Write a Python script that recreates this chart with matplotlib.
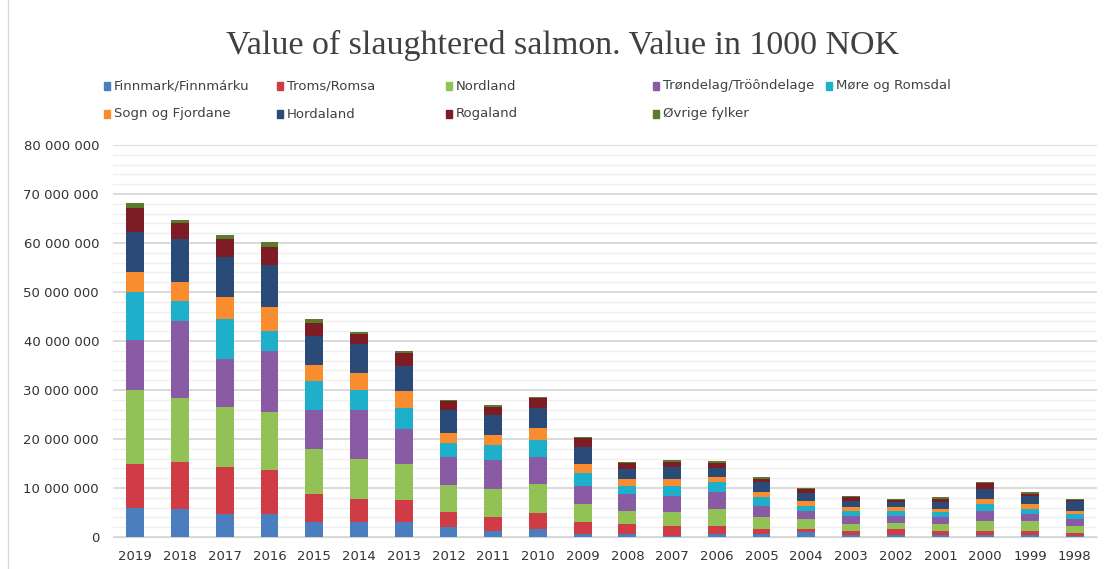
import numpy as np
import matplotlib
matplotlib.use('Agg')
import matplotlib.pyplot as plt
from matplotlib.patches import Rectangle
from matplotlib.ticker import MultipleLocator, FuncFormatter

# years on the x axis (newest first, as in the source)
years = ['2019', '2018', '2017', '2016', '2015', '2014', '2013', '2012', '2011', '2010', '2009',
         '2008', '2007', '2006', '2005', '2004', '2003', '2002', '2001', '2000', '1999', '1998']

# values in millions (axis is in 1000 NOK)
finnmark  = [6.0, 5.65, 4.7, 4.7, 3.0, 3.0, 3.0, 2.0, 1.3, 1.6, 0.55, 0.55, 0.27, 0.55, 0.55, 0.96, 0.47, 0.47, 0.47, 0.47, 0.47, 0.2]
troms     = [9.0, 9.65, 9.6, 9.0, 5.8, 4.76, 4.5, 3.06, 2.7, 3.4, 2.45, 2.1, 2.05, 1.7, 1.0, 0.6, 0.75, 1.1, 0.75, 0.75, 0.75, 0.6]
nordland  = [15.0, 13.0, 12.3, 11.9, 9.2, 8.2, 7.5, 5.5, 5.8, 5.9, 3.7, 2.7, 2.7, 3.5, 2.45, 2.05, 1.4, 1.35, 1.4, 2.1, 2.1, 1.4]
trondelag = [10.3, 15.8, 9.7, 12.4, 8.0, 10.0, 7.1, 5.8, 5.85, 5.4, 3.7, 3.4, 3.4, 3.4, 2.4, 1.75, 1.75, 1.43, 1.4, 2.05, 1.35, 1.4]
more      = [9.6, 4.1, 8.1, 4.1, 5.8, 4.1, 4.2, 2.8, 3.05, 3.5, 2.7, 1.7, 2.05, 2.0, 1.7, 1.0, 1.0, 1.0, 1.0, 1.35, 1.0, 1.0]
sogn      = [4.1, 3.8, 4.5, 4.8, 3.4, 3.4, 3.4, 2.1, 2.05, 2.4, 1.8, 1.4, 1.35, 1.0, 1.0, 1.0, 0.7, 0.7, 0.7, 1.0, 1.0, 0.7]
hordaland = [8.3, 8.9, 8.2, 8.6, 5.8, 5.9, 5.1, 4.7, 4.15, 4.1, 3.4, 2.0, 2.4, 2.0, 2.1, 1.7, 1.35, 1.0, 1.4, 2.05, 1.7, 2.0]
rogaland  = [4.8, 3.1, 3.8, 3.7, 2.7, 2.1, 2.8, 1.8, 1.7, 2.0, 1.9, 1.2, 1.0, 1.0, 0.65, 0.7, 0.7, 0.47, 0.7, 1.15, 0.5, 0.3]
ovrige    = [1.0, 0.6, 0.7, 1.0, 0.7, 0.4, 0.4, 0.3, 0.3, 0.3, 0.3, 0.3, 0.4, 0.4, 0.35, 0.3, 0.33, 0.2, 0.34, 0.25, 0.3, 0.2]

names = ['Finnmark/Finnmárku', 'Troms/Romsa', 'Nordland', 'Trøndelag/Tröôndelage', 'Møre og Romsdal',
         'Sogn og Fjordane', 'Hordaland', 'Rogaland', 'Øvrige fylker']
colors = ['#4A7EBF', '#D03C46', '#92C155', '#8A5BA5', '#1EB0CB',
          '#FA8C30', '#2A4A78', '#7E1C25', '#5B7A2E']
series = [finnmark, troms, nordland, trondelag, more, sogn, hordaland, rogaland, ovrige]

fig = plt.figure(figsize=(11.05, 5.69), dpi=100)
ax = fig.add_axes([113/1105, 1 - 537/569, (1097 - 113)/1105, (537 - 145)/569])

x = np.arange(len(years))
bottom = np.zeros(len(years))
for vals, col in zip(series, colors):
    v = np.array(vals) * 1e6
    ax.bar(x, v, 0.4, bottom=bottom, color=col, edgecolor='none', zorder=3)
    bottom += v

ax.set_xlim(-0.5, len(years) - 0.5)
ax.set_ylim(0, 80e6)
ax.set_xticks(x)
ax.set_xticklabels(years)
ax.yaxis.set_major_locator(MultipleLocator(10e6))
ax.yaxis.set_minor_locator(MultipleLocator(2e6))
ax.yaxis.set_major_formatter(FuncFormatter(lambda v, p: '{:,.0f}'.format(v).replace(',', ' ')))
ax.grid(which='major', axis='y', color='#D4D4D4', linewidth=1.2, zorder=0)
ax.grid(which='minor', axis='y', color='#EFEFEF', linewidth=1.0, zorder=0)
for s in ['top', 'right', 'left']:
    ax.spines[s].set_visible(False)
ax.spines['bottom'].set_color('#D4D4D4')
ax.tick_params(axis='both', which='both', length=0, labelsize=9.5, colors='#333333')
ax.tick_params(axis='y', pad=10)
ax.tick_params(axis='x', pad=9)

fig.text(563/1105, 1 - 45/569, 'Value of slaughtered salmon. Value in 1000 NOK',
         family='Liberation Serif', fontsize=24.5, ha='center', va='center', color='#404040')

# legend laid out like the original (two rows)
leg_x = [104, 277, 446, 653, 826, 104, 277, 446, 653]
leg_y = [86, 86, 86, 86, 86, 114, 114, 114, 114]
for name, col, lx, ly in zip(names, colors, leg_x, leg_y):
    fig.patches.append(Rectangle((lx/1105, 1 - (ly + 4)/569), 6/1105, 8/569,
                                 transform=fig.transFigure, color=col))
    fig.text((lx + 10)/1105, 1 - ly/569, name, fontsize=9.5, ha='left', va='center',
             color='#404040')

fig.add_artist(plt.Line2D([8/1105, 8/1105], [0, 1], transform=fig.transFigure, color='#D9D9D9', lw=1))

fig.savefig('out.png', dpi=100)
